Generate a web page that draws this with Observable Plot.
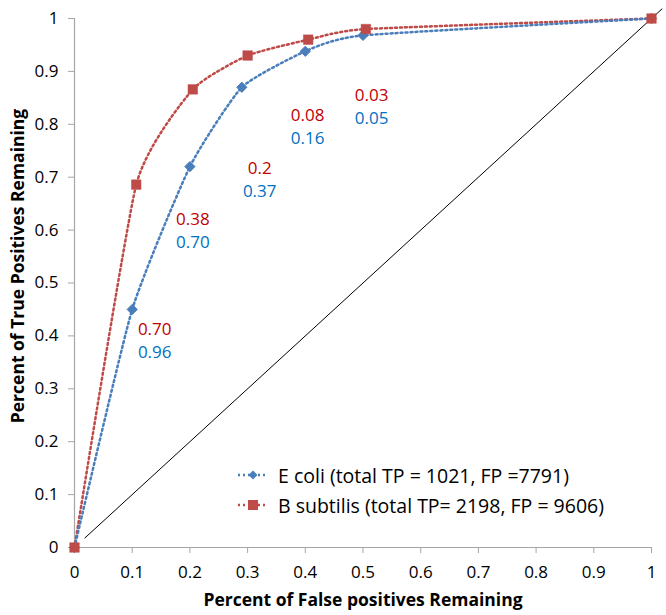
<!DOCTYPE html>
<html>
<head>
<meta charset="utf-8">
<script src="https://cdn.jsdelivr.net/npm/d3@7"></script>
<script src="https://cdn.jsdelivr.net/npm/@observablehq/plot@0.6"></script>
<style>
  html, body { margin: 0; padding: 0; background: #fff; }
  #wrap { position: relative; width: 666px; height: 615px; font-family: "Open Sans", sans-serif; }
  #legend { position: absolute; left: 236px; top: 460px; font-size: 19.5px; color: #000; }
  #legend .row { display: flex; align-items: center; height: 30px; }
  #legend svg { margin-right: 8px; }
</style>
</head>
<body>
<div id="wrap"></div>
<script>
const xTicks = [0, 0.1, 0.2, 0.3, 0.4, 0.5, 0.6, 0.7, 0.8, 0.9, 1];
const yTicks = [0, 0.1, 0.2, 0.3, 0.4, 0.5, 0.6, 0.7, 0.8, 0.9, 1];

const ecoliX = [0, 0.1, 0.2, 0.29, 0.4, 0.5, 1];
const ecoliY = [0, 0.45, 0.72, 0.87, 0.938, 0.968, 1];
const bsubX = [0, 0.107, 0.205, 0.3, 0.405, 0.505, 1];
const bsubY = [0, 0.686, 0.866, 0.93, 0.96, 0.98, 1];

const labelX = [0.139, 0.205, 0.321, 0.404, 0.515];
const bsubLabelY = [0.412, 0.62, 0.716, 0.817, 0.855];
const ecoliLabelY = [0.369, 0.576, 0.673, 0.773, 0.811];
const bsubLabels = ["0.70", "0.38", "0.2", "0.08", "0.03"];
const ecoliLabels = ["0.96", "0.70", "0.37", "0.16", "0.05"];

const refLine = [0.018, 1.018];

const seriesNames = ["E coli (total TP = 1021, FP =7791)", "B subtilis (total TP= 2198, FP = 9606)"];
const xTitle = "Percent of False positives Remaining";
const yTitle = "Percent of True Positives Remaining";

const blue = "#4a7ebb", red = "#be4b48";
const blueText = "#0070c0", redText = "#c00000";

const ecoli = ecoliX.map((x, i) => ({x, y: ecoliY[i]}));
const bsub = bsubX.map((x, i) => ({x, y: bsubY[i]}));
const ref = refLine.map(v => ({x: v, y: v}));
const bLab = labelX.map((x, i) => ({x, y: bsubLabelY[i], t: bsubLabels[i]}));
const eLab = labelX.map((x, i) => ({x, y: ecoliLabelY[i], t: ecoliLabels[i]}));

const fmt = d => String(+d.toFixed(1));
const axisGray = "#a6a6a6";
const smooth = d3.curveCardinal.tension(0.5);

const chart = Plot.plot({
  width: 666, height: 615,
  marginLeft: 74, marginRight: 15, marginTop: 18, marginBottom: 68,
  style: {fontFamily: "Open Sans, sans-serif", fontSize: "17px", color: "#000", background: "#fff"},
  x: {domain: [0, 1]},
  y: {domain: [0, 1]},
  marks: [
    Plot.axisX({ticks: xTicks, tickFormat: fmt, tickSize: 6, tickPadding: 12, stroke: axisGray, fill: "#000", label: null, fontSize: 17}),
    Plot.axisY({ticks: yTicks, tickFormat: fmt, tickSize: 6, tickPadding: 10, stroke: axisGray, fill: "#000", label: null, fontSize: 17}),
    Plot.ruleY([0], {stroke: axisGray, strokeWidth: 1.2}),
    Plot.ruleX([0], {stroke: axisGray, strokeWidth: 1.2}),
    Plot.line(ref, {x: "x", y: "y", stroke: "#000", strokeWidth: 1}),
    Plot.line(bsub, {x: "x", y: "y", stroke: red, strokeWidth: 2.5, strokeDasharray: "2,3", curve: smooth}),
    Plot.line(ecoli, {x: "x", y: "y", stroke: blue, strokeWidth: 2.5, strokeDasharray: "2,3", curve: smooth}),
    Plot.dot(ecoli, {x: "x", y: "y", symbol: "diamond2", r: 4.6, fill: blue, stroke: blue, strokeWidth: 1}),
    Plot.dot(bsub, {x: "x", y: "y", symbol: "square", r: 5.4, fill: red, stroke: red, strokeWidth: 0.5}),
    Plot.text(bLab, {x: "x", y: "y", text: "t", fill: redText, fontSize: 17}),
    Plot.text(eLab, {x: "x", y: "y", text: "t", fill: blueText, fontSize: 17}),
    Plot.text([xTitle], {frameAnchor: "bottom", dy: 58, fontWeight: "bold", fontSize: 17.5, fill: "#000"}),
    Plot.text([yTitle], {frameAnchor: "left", textAnchor: "middle", dx: -56, dy: -17, rotate: -90, fontWeight: "bold", fontSize: 17.5, fill: "#000"})
  ]
});
const wrap = document.getElementById("wrap");
wrap.appendChild(chart);

// legend overlay
const legend = document.createElement("div");
legend.id = "legend";
const colors = [blue, red];
const shapes = ["diamond", "square"];
seriesNames.forEach((name, i) => {
  const row = document.createElement("div");
  row.className = "row";
  const s = d3.create("svg").attr("width", 34).attr("height", 14);
  s.append("line").attr("x1", 2).attr("x2", 32).attr("y1", 7).attr("y2", 7)
    .attr("stroke", colors[i]).attr("stroke-width", 2.4).attr("stroke-dasharray", "2,3");
  if (shapes[i] === "diamond") {
    s.append("path").attr("d", "M17,2.5L21.5,7L17,11.5L12.5,7Z").attr("fill", colors[i]);
  } else {
    s.append("rect").attr("x", 12).attr("y", 2).attr("width", 10).attr("height", 10).attr("fill", colors[i]);
  }
  row.appendChild(s.node());
  const t = document.createElement("span");
  t.textContent = name;
  row.appendChild(t);
  legend.appendChild(row);
});
wrap.appendChild(legend);
</script>
</body>
</html>
